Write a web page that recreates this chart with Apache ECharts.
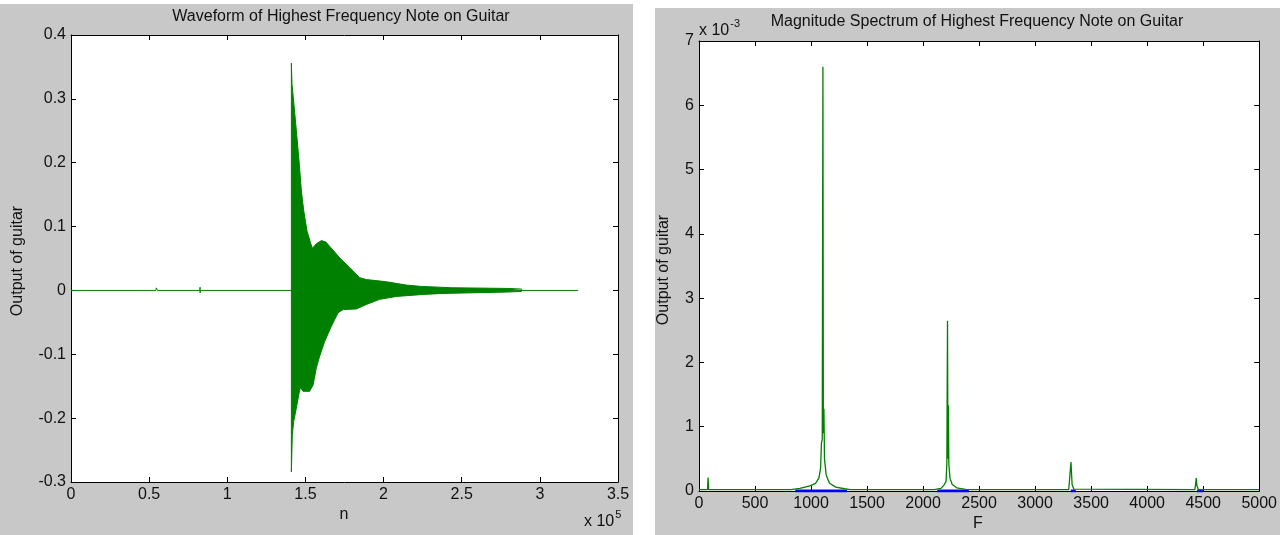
<!DOCTYPE html>
<html>
<head>
<meta charset="utf-8">
<script src="https://cdn.jsdelivr.net/npm/echarts@6/dist/echarts.min.js"></script>
<style>
  html, body { margin: 0; padding: 0; background: #ffffff; }
  #chart { width: 1280px; height: 535px; }
</style>
</head>
<body>
<div id="chart"></div>
<script>
// ---- Waveform (left panel): envelope of the plucked note, sample index n ----
const waveUpperN = [141000, 141000, 141400, 142500, 144200, 145900, 147400, 148900, 151000, 153200, 154400,
  157000, 160200, 163000, 167700, 171900, 178300, 184700, 189000, 201800, 214600, 224200, 243400, 279700, 288200, 288200];
const waveUpper = [0, 0.356, 0.323, 0.295, 0.250, 0.203, 0.156, 0.125, 0.093, 0.075, 0.066,
  0.073, 0.078, 0.076, 0.063, 0.051, 0.036, 0.020, 0.017, 0.0136, 0.0084, 0.0063, 0.0042, 0.0031, 0.0021, 0];

const waveLowerN = [141000, 141000, 141600, 142500, 144200, 145900, 146800, 148500, 152700, 154900, 157000,
  159100, 162300, 166600, 170900, 174100, 182600, 189000, 197500, 208200, 225300, 238100, 278600, 288200, 288200];
const waveLower = [0, -0.284, -0.226, -0.205, -0.184, -0.161, -0.152, -0.158, -0.158, -0.148, -0.121,
  -0.103, -0.080, -0.056, -0.035, -0.030, -0.029, -0.022, -0.014, -0.0094, -0.0063, -0.0047, -0.0026, -0.0016, 0];

// silent stretches of the recording, with two tiny clicks
const baseN = [0, 54300, 54600, 54600, 55300, 55300, 82400, 82600, 82600, 82800, 324500];
const baseV = [0, 0, 0.004, 0.002, 0.003, 0, 0, 0.005, -0.004, 0, 0];

// ---- Magnitude spectrum (right panel), values in units of 1e-3 ----
const specF = [0, 76, 81, 86, 820, 900, 990, 1040, 1070, 1085, 1093, 1100, 1106, 1110, 1115, 1120, 1135, 1165, 1220, 1300, 1350,
  2100, 2160, 2190, 2205, 2212, 2218, 2222, 2226, 2230, 2240, 2260, 2300, 2380, 2420,
  3300, 3315, 3320, 3325, 3330, 3345, 3360,
  4425, 4432, 4438, 4444, 4452, 4458, 5000];
const specV = [0.02, 0.02, 0.21, 0.02, 0.02, 0.04, 0.08, 0.12, 0.2, 0.35, 0.75, 0.8, 6.6, 0.9, 1.28, 0.5, 0.25, 0.12, 0.06, 0.035, 0.02,
  0.02, 0.04, 0.1, 0.15, 0.42, 2.65, 0.5, 1.33, 0.42, 0.2, 0.1, 0.05, 0.025, 0.02,
  0.02, 0.05, 0.45, 0.43, 0.1, 0.03, 0.02,
  0.02, 0.1, 0.2, 0.08, 0.1, 0.02, 0.02];

// low-level component shown in blue around each partial
const blueBands = [[859, 1321], [2126, 2409], [3318, 3363], [4446, 4497]];

// axis ticks
const waveXTicks = [0, 0.5, 1, 1.5, 2, 2.5, 3, 3.5];       // x 10^5
const waveYTicks = [-0.3, -0.2, -0.1, 0, 0.1, 0.2, 0.3, 0.4];
const specXTicks = [0, 500, 1000, 1500, 2000, 2500, 3000, 3500, 4000, 4500, 5000];
const specYTicks = [0, 1, 2, 3, 4, 5, 6, 7];                // x 10^-3

const GREEN = '#008000';
const BLUE = '#0000ff';
const FONT = '"Liberation Sans", Arial, sans-serif';
const TXT = '#111111';
const FS = 16;

const pairs = (xs, ys) => xs.map((x, i) => [x, ys[i]]);
const blueData = [];
blueBands.forEach(([a, b]) => { blueData.push([a, 0], [b, 0], [null, null]); });

const labelFmt = v => String(Math.round(v * 1000) / 1000);

function mainAxis(pos, gridIndex, ticks, fmt, show) {
  return {
    type: 'value', gridIndex, position: pos,
    min: ticks[0], max: ticks[ticks.length - 1], interval: ticks[1] - ticks[0],
    axisLine: { show: true, onZero: false, lineStyle: { color: '#000', width: 1 } },
    axisTick: { show: true, inside: true, length: 5, lineStyle: { color: '#000' } },
    axisLabel: { show, color: TXT, fontFamily: FONT, fontSize: FS, margin: 5, formatter: fmt },
    splitLine: { show: false }
  };
}

const chart = echarts.init(document.getElementById('chart'), null, { renderer: 'canvas' });

chart.setOption({
  animation: false,
  backgroundColor: '#ffffff',
  grid: [
    { left: 71, top: 35, width: 547, height: 447, show: true, backgroundColor: '#ffffff', borderWidth: 0 },
    { left: 699, top: 41, width: 561, height: 450, show: true, backgroundColor: '#ffffff', borderWidth: 0 }
  ],
  xAxis: [
    mainAxis('bottom', 0, waveXTicks.map(t => t * 1e5), v => labelFmt(v / 1e5), true),
    mainAxis('top', 0, waveXTicks.map(t => t * 1e5), null, false),
    mainAxis('bottom', 1, specXTicks, v => labelFmt(v), true),
    mainAxis('top', 1, specXTicks, null, false)
  ],
  yAxis: [
    mainAxis('left', 0, waveYTicks, v => labelFmt(v), true),
    mainAxis('right', 0, waveYTicks, null, false),
    mainAxis('left', 1, specYTicks, v => labelFmt(v), true),
    mainAxis('right', 1, specYTicks, null, false)
  ],
  graphic: [
    { type: 'rect', z: -100, silent: true, shape: { x: 0, y: 4, width: 633, height: 531 }, style: { fill: '#c8c8c8' } },
    { type: 'rect', z: -100, silent: true, shape: { x: 655, y: 8, width: 625, height: 527 }, style: { fill: '#c8c8c8' } },
    { type: 'text', z: 50, x: 341, y: 17, style: { text: 'Waveform of Highest Frequency Note on Guitar', font: `${FS}px ${FONT}`, fill: TXT, align: 'center', verticalAlign: 'middle' } },
    { type: 'text', z: 50, x: 977, y: 22, style: { text: 'Magnitude Spectrum of Highest Frequency Note on Guitar', font: `${FS}px ${FONT}`, fill: TXT, align: 'center', verticalAlign: 'middle' } },
    { type: 'text', z: 50, x: 18, y: 261, rotation: Math.PI / 2, style: { text: 'Output of guitar', font: `${FS}px ${FONT}`, fill: TXT, align: 'center', verticalAlign: 'middle' } },
    { type: 'text', z: 50, x: 664, y: 270, rotation: Math.PI / 2, style: { text: 'Output of guitar', font: `${FS}px ${FONT}`, fill: TXT, align: 'center', verticalAlign: 'middle' } },
    { type: 'text', z: 50, x: 344, y: 515, style: { text: 'n', font: `${FS}px ${FONT}`, fill: TXT, align: 'center', verticalAlign: 'middle' } },
    { type: 'text', z: 50, x: 978, y: 524, style: { text: 'F', font: `${FS}px ${FONT}`, fill: TXT, align: 'center', verticalAlign: 'middle' } },
    { type: 'text', z: 50, x: 584, y: 505, style: {
        text: '{b|x 10}{s|5}', fill: TXT,
        rich: { b: { font: `${FS}px ${FONT}`, fill: TXT, padding: [9, 0, 0, 0] }, s: { font: `11px ${FONT}`, fill: TXT, padding: [0, 0, 6, 1] } } } },
    { type: 'text', z: 50, x: 699, y: 14, style: {
        text: '{b|x 10}{s|-3}', fill: TXT,
        rich: { b: { font: `${FS}px ${FONT}`, fill: TXT, padding: [9, 0, 0, 0] }, s: { font: `11px ${FONT}`, fill: TXT, padding: [0, 0, 6, 1] } } } }
  ],
  series: [
    {
      type: 'line', xAxisIndex: 0, yAxisIndex: 0, data: pairs(baseN, baseV),
      showSymbol: false, lineStyle: { color: GREEN, width: 1 }, silent: true
    },
    {
      type: 'line', xAxisIndex: 0, yAxisIndex: 0, data: pairs(waveUpperN, waveUpper),
      showSymbol: false, lineStyle: { color: GREEN, width: 1 }, areaStyle: { color: GREEN, opacity: 1 }, silent: true
    },
    {
      type: 'line', xAxisIndex: 0, yAxisIndex: 0, data: pairs(waveLowerN, waveLower),
      showSymbol: false, lineStyle: { color: GREEN, width: 1 }, areaStyle: { color: GREEN, opacity: 1 }, silent: true
    },
    {
      type: 'line', xAxisIndex: 2, yAxisIndex: 2, data: blueData, connectNulls: false,
      showSymbol: false, lineStyle: { color: BLUE, width: 3 }, silent: true, z: 1
    },
    {
      type: 'line', xAxisIndex: 2, yAxisIndex: 2, data: pairs(specF, specV),
      showSymbol: false, lineStyle: { color: GREEN, width: 1.3 }, silent: true, z: 2
    }
  ]
});
</script>
</body>
</html>
